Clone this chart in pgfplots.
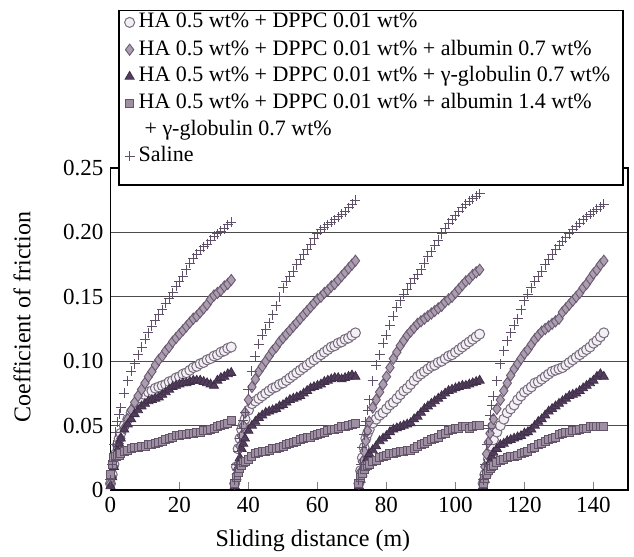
\documentclass[border=0pt]{standalone}
\usepackage{fontspec}
\setmainfont{Liberation Serif}
\usepackage{pgfplots}
\pgfplotsset{compat=1.18}
\usepackage{pgfplotstable}

\definecolor{circEdge}{RGB}{120,108,126}
\definecolor{circFill}{RGB}{242,240,244}
\definecolor{diaFill}{RGB}{172,158,176}
\definecolor{diaEdge}{RGB}{105,90,112}
\definecolor{triFill}{RGB}{82,62,92}
\definecolor{triEdge}{RGB}{62,46,72}
\definecolor{sqFill}{RGB}{158,143,163}
\definecolor{sqEdge}{RGB}{100,84,106}
\definecolor{plusCol}{RGB}{95,80,105}

% d = distance within one 36 m run, c1..c4 = runs 1..4
\pgfplotstableread{
d    c1    c2    c3    c4
0    0.005 0.005 0.005 0.005
0.5  0.012 0.018 0.015 0.012
1    0.020 0.032 0.025 0.018
1.5  0.028 0.040 0.033 0.024
2    0.035 0.047 0.040 0.029
2.5  0.040 0.051 0.044 0.034
3    0.044 0.055 0.047 0.039
4    0.050 0.062 0.052 0.045
5    0.055 0.067 0.055 0.050
6    0.060 0.069 0.058 0.055
7    0.064 0.071 0.060 0.060
8    0.068 0.073 0.063 0.063
9    0.071 0.075 0.066 0.066
10   0.074 0.077 0.068 0.070
11   0.076 0.079 0.071 0.073
12   0.077 0.080 0.074 0.076
13   0.079 0.082 0.077 0.078
14   0.080 0.083 0.079 0.080
15   0.081 0.085 0.082 0.083
16   0.082 0.087 0.085 0.084
17   0.084 0.089 0.088 0.086
18   0.085 0.091 0.090 0.088
19   0.087 0.093 0.092 0.090
20   0.088 0.095 0.094 0.092
21   0.090 0.097 0.096 0.093
22   0.091 0.099 0.097 0.094
23   0.093 0.101 0.099 0.095
24   0.095 0.103 0.100 0.097
25   0.096 0.105 0.102 0.099
26   0.098 0.107 0.104 0.101
27   0.099 0.109 0.105 0.103
28   0.101 0.111 0.107 0.105
29   0.102 0.112 0.109 0.107
30   0.104 0.114 0.111 0.109
31   0.105 0.115 0.113 0.111
32   0.107 0.117 0.115 0.114
33   0.108 0.118 0.117 0.116
34   0.110 0.120 0.119 0.119
35   0.111 0.122 0.121 0.122
}\circdata

\pgfplotstableread{
d    c1    c2    c3    c4
0    0.005 0.005 0.005 0.008
0.5  0.010 0.012 0.014 0.018
1    0.018 0.020 0.022 0.028
1.5  0.025 0.034 0.030 0.037
2    0.032 0.042 0.038 0.044
2.5  0.036 0.050 0.046 0.050
3    0.040 0.060 0.053 0.055
4    0.048 0.070 0.064 0.063
5    0.055 0.080 0.070 0.070
6    0.062 0.086 0.076 0.077
7    0.068 0.092 0.082 0.083
8    0.073 0.096 0.088 0.089
9    0.078 0.100 0.095 0.094
10   0.083 0.104 0.102 0.098
11   0.088 0.108 0.107 0.102
12   0.092 0.111 0.112 0.106
13   0.097 0.115 0.116 0.109
14   0.101 0.118 0.120 0.113
15   0.104 0.121 0.123 0.117
16   0.108 0.124 0.126 0.120
17   0.111 0.127 0.129 0.123
18   0.115 0.130 0.131 0.125
19   0.118 0.133 0.133 0.127
20   0.121 0.136 0.135 0.129
21   0.124 0.139 0.137 0.131
22   0.127 0.142 0.139 0.133
23   0.130 0.145 0.141 0.138
24   0.133 0.148 0.143 0.141
25   0.135 0.150 0.146 0.144
26   0.138 0.153 0.148 0.147
27   0.141 0.155 0.150 0.150
28   0.144 0.158 0.153 0.153
29   0.148 0.160 0.156 0.157
30   0.151 0.163 0.159 0.160
31   0.153 0.166 0.162 0.164
32   0.155 0.169 0.164 0.168
33   0.158 0.172 0.167 0.171
34   0.160 0.175 0.169 0.175
35   0.163 0.178 0.171 0.178
}\diadata

\pgfplotstableread{
d    c1    c2    c3    c4
0    0.003 0.003 0.003 0.003
0.5  0.010 0.010 0.008 0.008
1    0.018 0.018 0.013 0.013
1.5  0.025 0.025 0.018 0.018
2    0.031 0.032 0.022 0.022
2.5  0.036 0.036 0.025 0.026
3    0.040 0.040 0.028 0.029
4    0.047 0.046 0.031 0.032
5    0.051 0.050 0.034 0.035
6    0.055 0.053 0.038 0.036
7    0.059 0.056 0.040 0.038
8    0.062 0.058 0.042 0.039
9    0.065 0.060 0.045 0.040
10   0.067 0.061 0.047 0.041
11   0.069 0.062 0.048 0.042
12   0.070 0.063 0.049 0.044
13   0.071 0.065 0.050 0.045
14   0.072 0.066 0.051 0.047
15   0.074 0.068 0.052 0.050
16   0.076 0.070 0.055 0.053
17   0.078 0.071 0.057 0.055
18   0.080 0.072 0.060 0.058
19   0.081 0.073 0.063 0.061
20   0.082 0.075 0.065 0.063
21   0.083 0.077 0.067 0.065
22   0.083 0.079 0.069 0.067
23   0.084 0.080 0.071 0.069
24   0.085 0.081 0.073 0.071
25   0.085 0.082 0.075 0.073
26   0.085 0.084 0.077 0.074
27   0.084 0.085 0.078 0.075
28   0.083 0.086 0.079 0.077
29   0.082 0.087 0.080 0.079
30   0.081 0.087 0.081 0.081
31   0.085 0.086 0.081 0.083
32   0.087 0.087 0.082 0.085
33   0.088 0.088 0.083 0.088
34   0.090 0.089 0.084 0.090
35   0.091 0.088 0.085 0.088
}\tridata

\pgfplotstableread{
d    c1    c2    c3    c4
0    0.012 0.005 0.005 0.005
0.5  0.020 0.010 0.010 0.009
1    0.025 0.014 0.013 0.012
1.5  0.026 0.017 0.016 0.015
2    0.027 0.019 0.018 0.017
2.5  0.027 0.021 0.019 0.018
3    0.028 0.022 0.020 0.019
4    0.030 0.024 0.022 0.021
5    0.031 0.026 0.023 0.023
6    0.032 0.028 0.025 0.024
7    0.033 0.029 0.026 0.025
8    0.033 0.030 0.027 0.026
9    0.034 0.030 0.028 0.026
10   0.034 0.031 0.028 0.027
11   0.035 0.032 0.029 0.028
12   0.035 0.032 0.030 0.029
13   0.036 0.033 0.030 0.030
14   0.037 0.034 0.031 0.032
15   0.038 0.035 0.031 0.033
16   0.039 0.036 0.032 0.035
17   0.040 0.037 0.034 0.036
18   0.041 0.038 0.035 0.038
19   0.042 0.039 0.036 0.039
20   0.042 0.040 0.038 0.040
21   0.043 0.041 0.039 0.041
22   0.043 0.041 0.040 0.043
23   0.044 0.042 0.041 0.044
24   0.044 0.043 0.043 0.045
25   0.045 0.044 0.044 0.045
26   0.045 0.045 0.046 0.046
27   0.046 0.046 0.047 0.046
28   0.046 0.047 0.048 0.047
29   0.047 0.047 0.048 0.048
30   0.048 0.048 0.049 0.048
31   0.049 0.049 0.049 0.049
32   0.050 0.049 0.048 0.049
33   0.051 0.050 0.049 0.049
34   0.052 0.051 0.050 0.049
35   0.054 0.052 0.050 0.049
}\sqdata

\pgfplotstableread{
d    c1    c2    c3    c4
0    0.008 0.008 0.008 0.008
0.5  0.020 0.020 0.020 0.020
1    0.035 0.030 0.033 0.035
1.5  0.045 0.040 0.043 0.048
2    0.053 0.048 0.053 0.058
2.5  0.059 0.054 0.062 0.066
3    0.064 0.060 0.070 0.073
4    0.075 0.078 0.085 0.085
5    0.085 0.092 0.097 0.098
6    0.092 0.104 0.105 0.108
7    0.098 0.113 0.114 0.116
8    0.105 0.120 0.120 0.122
9    0.111 0.125 0.128 0.128
10   0.117 0.130 0.135 0.133
11   0.122 0.136 0.142 0.140
12   0.127 0.143 0.147 0.147
13   0.132 0.150 0.152 0.152
14   0.136 0.157 0.156 0.157
15   0.140 0.162 0.160 0.162
16   0.145 0.166 0.164 0.166
17   0.149 0.170 0.167 0.170
18   0.153 0.175 0.171 0.175
19   0.158 0.179 0.176 0.179
20   0.162 0.183 0.181 0.183
21   0.166 0.187 0.185 0.187
22   0.171 0.191 0.190 0.190
23   0.176 0.195 0.194 0.193
24   0.180 0.199 0.199 0.196
25   0.183 0.202 0.203 0.199
26   0.186 0.204 0.207 0.202
27   0.189 0.206 0.210 0.205
28   0.191 0.208 0.213 0.207
29   0.194 0.210 0.216 0.210
30   0.197 0.212 0.219 0.212
31   0.199 0.214 0.222 0.214
32   0.201 0.216 0.224 0.216
33   0.203 0.219 0.226 0.218
34   0.206 0.222 0.228 0.220
35   0.208 0.225 0.230 0.222
}\saldata

\pgfplotsset{
  sCirc/.style={only marks, mark=*, mark size=2.5pt,
    mark options={draw=circEdge, fill=circFill, line width=0.5pt}},
  sDia/.style={only marks, mark=diamond*, mark size=2.8pt,
    mark options={draw=diaEdge, fill=diaFill, line width=0.45pt}},
  sTri/.style={only marks, mark=triangle*, mark size=2.6pt,
    mark options={draw=triEdge, fill=triFill, line width=0.4pt}},
  sSq/.style={only marks, mark=square*, mark size=2pt,
    mark options={draw=sqEdge, fill=sqFill, line width=0.45pt}},
  sPlus/.style={only marks, mark=+, mark size=2.5pt,
    mark options={draw=plusCol, line width=0.45pt}},
}

\begin{document}
\begin{tikzpicture}
\begin{axis}[
  scale only axis,
  width=258.75pt, height=161pt,
  xmin=0, xmax=150, ymin=0, ymax=0.25,
  xtick={0,20,...,140},
  ytick={0,0.05,0.10,0.15,0.20,0.25},
  yticklabels={0,0.05,0.10,0.15,0.20,0.25},
  tick align=inside,
  major tick length=4pt,
  ytick style={draw=none},
  xtick style={line width=0.8pt},
  ymajorgrids=true,
  grid style={line width=0.6pt, black!70},
  axis line style={line width=0.9pt},
  /pgf/number format/assume math mode=true,
  tick label style={font=\fontsize{11.5}{12}\selectfont},
  label style={font=\fontsize{12}{13}\selectfont},
  xlabel={Sliding distance (m)},
  ylabel={Coefficient of friction},
  xlabel style={at={(axis description cs:0.391,-0.158)}, anchor=center},
  ylabel style={at={(axis description cs:-0.171,0.537)}, anchor=center},
  legend cell align=left,
  legend image code/.code={\draw[#1] plot coordinates {(0.12cm,4.2pt)};},
  legend style={at={(0.0145,1.491)}, anchor=north west,
    font=\fontsize{11}{13}\selectfont, draw=black, line width=0.8pt,
    row sep=0pt, inner xsep=2pt, inner ysep=3.35pt,
    nodes={inner ysep=0pt, text height=5.15pt, text depth=8.15pt}},
]
\addplot[sCirc] table[x=d, y=c1] {\circdata};
\addlegendentry{HA 0.5 wt\% + DPPC 0.01 wt\%}
\addplot[sDia] table[x=d, y=c1] {\diadata};
\addlegendentry{HA 0.5 wt\% + DPPC 0.01 wt\% + albumin 0.7 wt\%}
\addplot[sTri] table[x=d, y=c1] {\tridata};
\addlegendentry{HA 0.5 wt\% + DPPC 0.01 wt\% + γ-globulin 0.7 wt\%\hspace*{2.5pt}}
\addplot[sSq] table[x=d, y=c1] {\sqdata};
\addlegendentry{HA 0.5 wt\% + DPPC 0.01 wt\% + albumin 1.4 wt\%}
\addlegendimage{empty legend}
\addlegendentry{\hspace*{3pt}+ γ-globulin 0.7 wt\%}
\addplot[sPlus] table[x=d, y=c1] {\saldata};
\addlegendentry{Saline}

\foreach \c/\off in {c2/36, c3/72, c4/108} {
  \addplot[sCirc, forget plot] table[x expr=\thisrow{d}+\off, y=\c] {\circdata};
  \addplot[sDia, forget plot] table[x expr=\thisrow{d}+\off, y=\c] {\diadata};
  \addplot[sTri, forget plot] table[x expr=\thisrow{d}+\off, y=\c] {\tridata};
  \addplot[sSq, forget plot] table[x expr=\thisrow{d}+\off, y=\c] {\sqdata};
  \addplot[sPlus, forget plot] table[x expr=\thisrow{d}+\off, y=\c] {\saldata};
}
\end{axis}
\pgfresetboundingbox
\path (current axis.south west) ++(-55.25pt,-33.5pt) rectangle ++(317pt,278.5pt);
\end{tikzpicture}
\end{document}
